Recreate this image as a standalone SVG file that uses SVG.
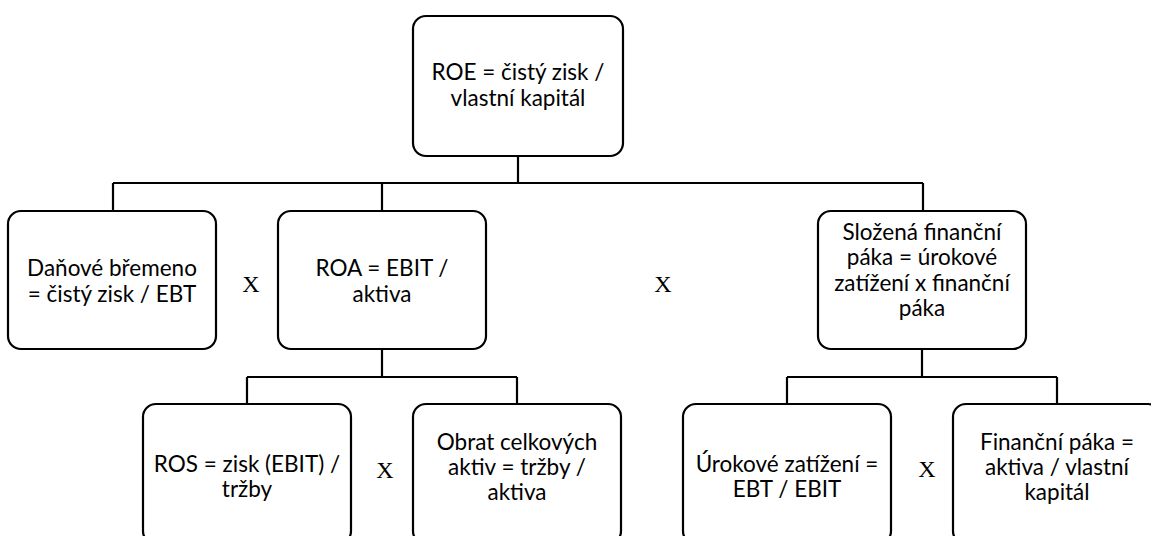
<svg xmlns="http://www.w3.org/2000/svg" width="1151" height="536" viewBox="0 0 1151 536">
<style>
.box{fill:#fff;stroke:#000;stroke-width:2.2}
.t{font-family:Lato,"Liberation Sans",sans-serif;font-size:22.5px;fill:#000;text-anchor:middle}
.x{font-family:"Liberation Serif",serif;font-size:24px;fill:#000;text-anchor:middle}
.c{fill:none;stroke:#000;stroke-width:2.2}
</style>
<rect width="1151" height="536" fill="#fff"/>
<g id="connectors">
<path class="c" d="M518 156V183M113 183H923M113 183V211M382 183V211M923 183V211"/>
<path class="c" d="M382 349V377M247 377H517M247 377V404M517 377V404"/>
<path class="c" d="M922 349V377M787 377H1057M787 377V404M1057 377V404"/>
</g>
<g id="roe"><rect class="box" x="413" y="16" width="210" height="140" rx="13"/>
<text class="t"><tspan x="518" y="80">ROE = čistý zisk /</tspan><tspan x="518" y="106">vlastní kapitál</tspan></text></g>
<g id="danove"><rect class="box" x="8" y="211" width="208" height="138" rx="13"/>
<text class="t"><tspan x="112" y="276">Daňové břemeno</tspan><tspan x="112" y="302">= čistý zisk / EBT</tspan></text></g>
<g id="roa"><rect class="box" x="278" y="211" width="208" height="138" rx="13"/>
<text class="t"><tspan x="382" y="276">ROA = EBIT /</tspan><tspan x="382" y="302">aktiva</tspan></text></g>
<g id="slozena"><rect class="box" x="818" y="211" width="208" height="138" rx="13"/>
<text class="t"><tspan x="922" y="240">Složená finanční</tspan><tspan x="922" y="265">páka = úrokové</tspan><tspan x="922" y="291">zatížení x finanční</tspan><tspan x="922" y="316">páka</tspan></text></g>
<g id="ros"><rect class="box" x="143" y="404" width="208" height="140" rx="13"/>
<text class="t"><tspan x="247" y="472">ROS = zisk (EBIT) /</tspan><tspan x="247" y="497">tržby</tspan></text></g>
<g id="obrat"><rect class="box" x="413" y="404" width="208" height="140" rx="13"/>
<text class="t"><tspan x="517" y="450">Obrat celkových</tspan><tspan x="517" y="475">aktiv = tržby /</tspan><tspan x="517" y="500">aktiva</tspan></text></g>
<g id="urokove"><rect class="box" x="683" y="404" width="208" height="140" rx="13"/>
<text class="t"><tspan x="787" y="472">Úrokové zatížení =</tspan><tspan x="787" y="497">EBT / EBIT</tspan></text></g>
<g id="financni"><rect class="box" x="953" y="404" width="208" height="140" rx="13"/>
<text class="t"><tspan x="1057" y="450">Finanční páka =</tspan><tspan x="1057" y="475">aktiva / vlastní</tspan><tspan x="1057" y="500">kapitál</tspan></text></g>
<g id="operators">
<text class="x" x="251" y="292">X</text>
<text class="x" x="663" y="292">X</text>
<text class="x" x="385" y="478">X</text>
<text class="x" x="927" y="477">X</text>
</g>
</svg>
